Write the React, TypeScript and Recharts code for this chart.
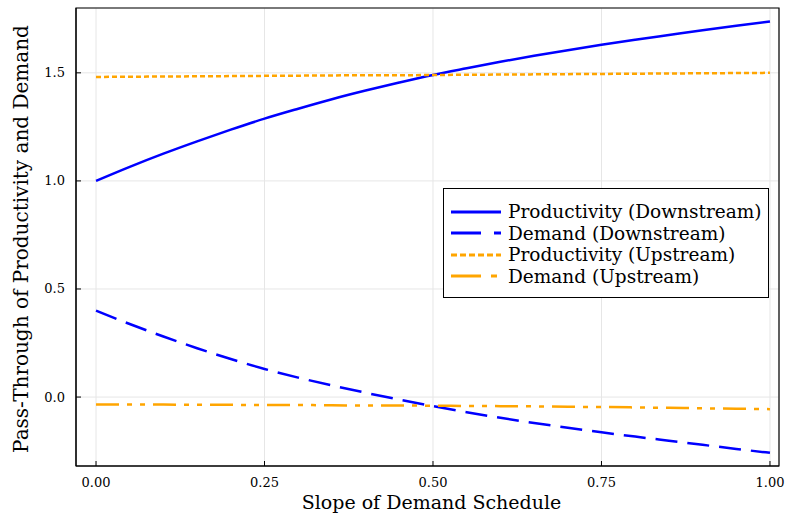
import React from 'react';
import { LineChart, Line, XAxis, YAxis, CartesianGrid, Legend, ReferenceArea, Label } from 'recharts';

// slope of the demand schedule
const slopes = [0, 0.05, 0.1, 0.15, 0.2, 0.25, 0.3, 0.35, 0.4, 0.45, 0.5, 0.55, 0.6, 0.65, 0.7, 0.75, 0.8, 0.85, 0.9, 0.95, 1.0];

const productivityDown = [1.0, 1.065, 1.126, 1.183, 1.237, 1.288, 1.334, 1.378, 1.418, 1.455, 1.49, 1.521, 1.551, 1.579, 1.605, 1.63, 1.653, 1.675, 1.697, 1.718, 1.738];
const demandDown = [0.4, 0.338, 0.28, 0.226, 0.176, 0.13, 0.09, 0.054, 0.02, -0.012, -0.042, -0.07, -0.096, -0.12, -0.142, -0.163, -0.183, -0.202, -0.221, -0.24, -0.258];
const productivityUp = [1.481, 1.482, 1.483, 1.484, 1.485, 1.486, 1.487, 1.488, 1.489, 1.489, 1.49, 1.491, 1.492, 1.493, 1.494, 1.495, 1.496, 1.497, 1.498, 1.499, 1.5];
const demandUp = [-0.034, -0.035, -0.035, -0.036, -0.036, -0.037, -0.037, -0.038, -0.039, -0.039, -0.04, -0.041, -0.042, -0.043, -0.045, -0.046, -0.048, -0.050, -0.052, -0.054, -0.056];

const xTicks = [0, 0.25, 0.5, 0.75, 1.0];
const yTicks = [0, 0.5, 1.0, 1.5];
const xDomain = [-0.0297, 1.0134];
const yDomain = [-0.319, 1.8];

const data = slopes.map((s, i) => ({
  slope: s,
  prodDown: productivityDown[i],
  demDown: demandDown[i],
  prodUp: productivityUp[i],
  demUp: demandUp[i],
}));

const FONT = '"DejaVu Serif", "Liberation Serif", serif';
const BLUE = '#0000ff';
const ORANGE = '#ffa500';

const legendItems = [
  { key: 'prodDown', name: 'Productivity (Downstream)', color: BLUE, dash: undefined },
  { key: 'demDown', name: 'Demand (Downstream)', color: BLUE, dash: '30 13' },
  { key: 'prodUp', name: 'Productivity (Upstream)', color: ORANGE, dash: '6 3' },
  { key: 'demUp', name: 'Demand (Upstream)', color: ORANGE, dash: '30 10 6 10' },
];

const XTick = (props: any) => {
  const { x, y, payload } = props;
  return (
    <g>
      <line x1={x} x2={x} y1={y} y2={y - 5} stroke="#000" strokeWidth={1} />
      <text x={x} y={y + 21} textAnchor="middle" fontSize={13} fontFamily={FONT} fill="#000">
        {Number(payload.value).toFixed(2)}
      </text>
    </g>
  );
};

const YTick = (props: any) => {
  const { x, y, payload } = props;
  return (
    <g>
      <line x1={x} x2={x + 5} y1={y} y2={y} stroke="#000" strokeWidth={1} />
      <text x={x - 11} y={y + 4.5} textAnchor="end" fontSize={13} fontFamily={FONT} fill="#000">
        {Number(payload.value).toFixed(1)}
      </text>
    </g>
  );
};

const renderLegend = () => (
  <div
    style={{
      border: '1px solid #000',
      background: '#fff',
      padding: '12px 7px 10px 7px',
      fontFamily: FONT,
      fontSize: 18.5,
      color: '#000',
      whiteSpace: 'nowrap',
    }}
  >
    {legendItems.map((it) => (
      <div key={it.key} style={{ display: 'flex', alignItems: 'center', height: 21.5 }}>
        <svg width={50} height={10} style={{ marginRight: 7 }}>
          <line x1={0} x2={50} y1={5} y2={5} stroke={it.color} strokeWidth={3} strokeDasharray={it.dash} />
        </svg>
        <span>{it.name}</span>
      </div>
    ))}
  </div>
);

export default function App() {
  return (
    <div style={{ position: 'absolute', left: 0, top: 0, width: 785, height: 514, background: '#fff' }}>
      <LineChart width={785} height={514} data={data} margin={{ top: 8, right: 6, left: 0, bottom: 0 }}>
        <CartesianGrid stroke="#e6e6e6" strokeWidth={1} />
        <XAxis
          dataKey="slope"
          type="number"
          domain={xDomain}
          ticks={xTicks}
          allowDataOverflow
          height={48}
          stroke="#000"
          tickLine={false}
          tickSize={0}
          tickMargin={0}
          tick={<XTick />}
          interval={0}
        >
          <Label
            content={(p: any) => {
              const vb = p.viewBox;
              return (
                <text x={vb.x + vb.width / 2 + 4} y={509} textAnchor="middle" fontSize={19} fontFamily={FONT} fill="#000">
                  Slope of Demand Schedule
                </text>
              );
            }}
          />
        </XAxis>
        <YAxis
          type="number"
          domain={yDomain}
          ticks={yTicks}
          allowDataOverflow
          width={76}
          stroke="#000"
          tickLine={false}
          tickSize={0}
          tickMargin={0}
          tick={<YTick />}
          interval={0}
        >
          <Label
            content={(p: any) => {
              const vb = p.viewBox;
              const cy = vb.y + vb.height / 2 + 2;
              return (
                <text
                  x={21}
                  y={cy}
                  transform={`rotate(-90 21 ${cy})`}
                  textAnchor="middle"
                  dominantBaseline="central"
                  fontSize={20}
                  fontFamily={FONT}
                  fill="#000"
                >
                  Pass-Through of Productivity and Demand
                </text>
              );
            }}
          />
        </YAxis>
        <ReferenceArea x1={xDomain[0]} x2={xDomain[1]} y1={yDomain[0]} y2={yDomain[1]} fill="none" stroke="#000" strokeWidth={1.2} ifOverflow="visible" />
        <Line type="monotone" dataKey="prodDown" name="Productivity (Downstream)" stroke={BLUE} strokeWidth={2.5} dot={false} isAnimationActive={false} />
        <Line type="monotone" dataKey="demDown" name="Demand (Downstream)" stroke={BLUE} strokeWidth={2.5} strokeDasharray="22 10" dot={false} isAnimationActive={false} />
        <Line type="monotone" dataKey="prodUp" name="Productivity (Upstream)" stroke={ORANGE} strokeWidth={2.5} strokeDasharray="5 3" dot={false} isAnimationActive={false} />
        <Line type="monotone" dataKey="demUp" name="Demand (Upstream)" stroke={ORANGE} strokeWidth={2.5} strokeDasharray="23 8 5 8 5 8" dot={false} isAnimationActive={false} />
        <Legend
          layout="horizontal"
          align="center"
          verticalAlign="middle"
          content={renderLegend}
          wrapperStyle={{ left: 443, top: 188, bottom: 'auto', right: 'auto', width: 'auto', height: 'auto' }}
        />
      </LineChart>
    </div>
  );
}
